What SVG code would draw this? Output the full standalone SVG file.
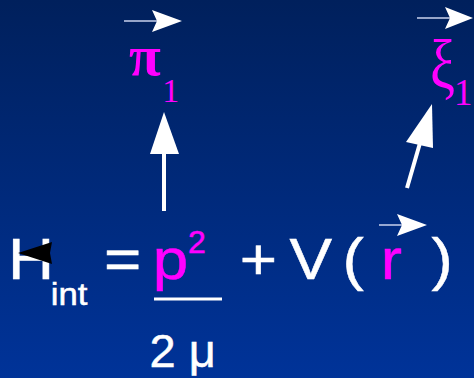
<svg xmlns="http://www.w3.org/2000/svg" width="474" height="378" viewBox="0 0 474 378">
<defs>
<linearGradient id="bg" x1="0" y1="0" x2="0" y2="1">
<stop offset="0" stop-color="#00205c"/>
<stop offset="1" stop-color="#003399"/>
</linearGradient>
</defs>
<style>
.s{font-family:"Liberation Sans",Arial,sans-serif;fill:#fff;stroke:#fff;stroke-width:0.5}
.m{fill:#ff00ff;stroke:#ff00ff}
.g{font-family:"Liberation Serif","Times New Roman",serif;fill:#ff00ff}
.vl{stroke:#c8d2ee;stroke-width:1.5}
.wh{fill:#fff}
</style>
<rect width="474" height="378" fill="url(#bg)"/>
<g id="hamiltonian">
<text class="s" transform="translate(7.9,279) scale(1.12,1)" font-size="57">H</text>
<text class="s" transform="translate(50.7,305) scale(1.12,1)" font-size="31">int</text>
<path d="M18,253 L52,242 L50,253 L52,264 Z" fill="#000"/>
</g>
<g id="equals"><text class="s" transform="translate(104,279) scale(1.12,1)" font-size="57">=</text></g>
<g id="p-squared">
<text class="s m" transform="translate(152.8,279) scale(1.12,1)" font-size="57">p</text>
<text class="s m" x="188" y="253" font-size="32">2</text>
<rect class="wh" x="154" y="297.5" width="68" height="3"/>
<text class="s" x="149.5" y="367" font-size="47">2 μ</text>
</g>
<g id="potential">
<text class="s" transform="translate(239.8,279) scale(1.12,1)" font-size="57">+</text>
<text class="s" transform="translate(289.5,279) scale(1.12,1)" font-size="57">V</text>
<text class="s" transform="translate(342.5,279) scale(1.12,1)" font-size="57">(</text>
<text class="s m" transform="translate(380.8,279) scale(1.12,1)" font-size="57">r</text>
<text class="s" transform="translate(431.5,279) scale(1.12,1)" font-size="57">)</text>
<line class="vl" x1="379" y1="225" x2="402" y2="225"/>
<path class="wh" d="M427,225 L397,214 L402,225 L397,236 Z"/>
</g>
<g id="pi1">
<text class="g" x="129" y="75" font-size="58" font-weight="bold">π</text>
<text class="g" x="162.2" y="101.5" font-size="34">1</text>
<line class="vl" x1="124" y1="21" x2="157" y2="21"/>
<path class="wh" d="M182,21 L152,10 L157,21 L152,32 Z"/>
</g>
<g id="xi1">
<text class="g" transform="translate(430,87.7) scale(1,1.25)" font-size="56">ξ</text>
<text class="g" x="454" y="105" font-size="37">1</text>
<line class="vl" x1="417" y1="18" x2="450" y2="18"/>
<path class="wh" d="M473,18 L445,7 L450,18 L445,29 Z"/>
</g>
<g id="connectors">
<line x1="164" y1="211" x2="164" y2="150" stroke="#fff" stroke-width="4"/>
<path class="wh" d="M164,112 L179,154 L150,154 Z"/>
<line x1="407" y1="188" x2="420" y2="143" stroke="#fff" stroke-width="4"/>
<path class="wh" d="M432,104 L433,148 L406,142 Z"/>
</g>
</svg>
